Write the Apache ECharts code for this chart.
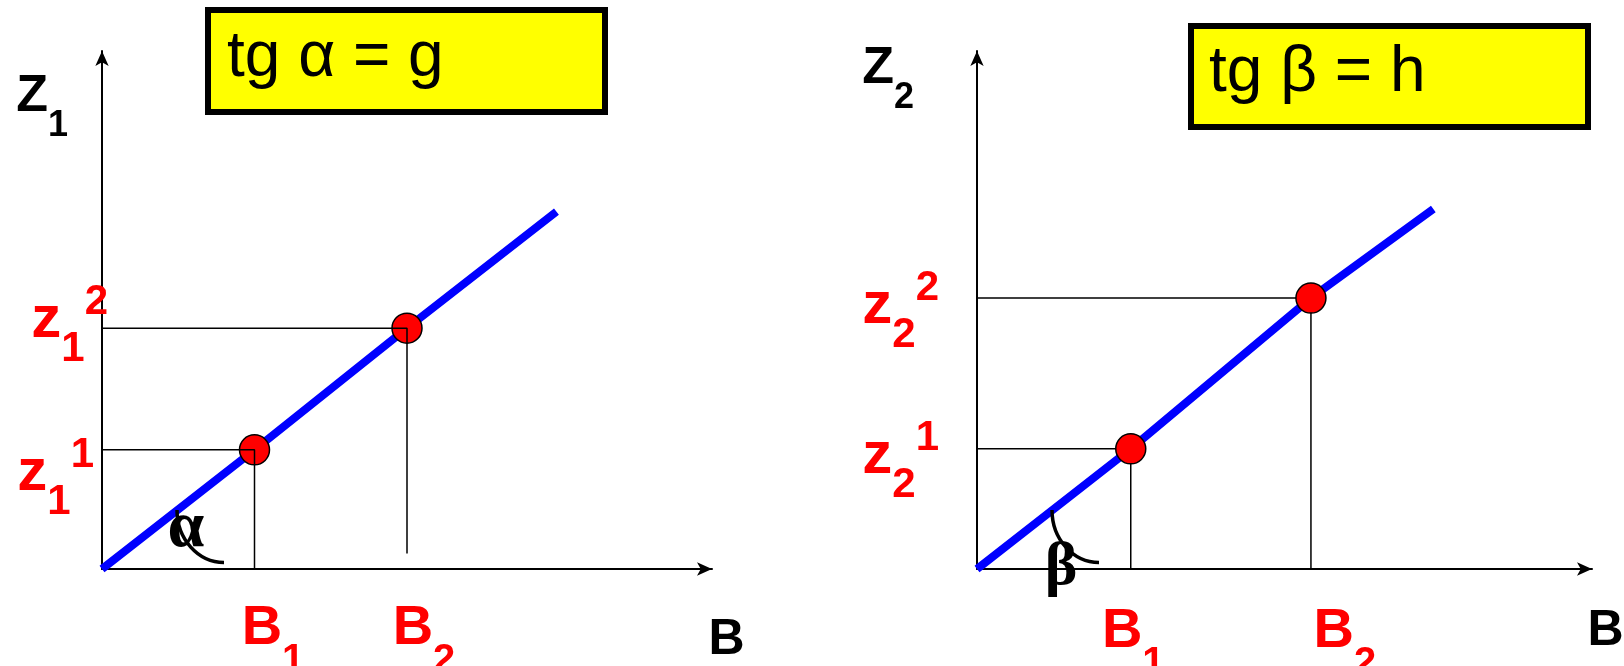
<!DOCTYPE html>
<html>
<head>
<meta charset="utf-8">
<title>tg α = g / tg β = h</title>
<script src="https://cdn.jsdelivr.net/npm/echarts@6/dist/echarts.min.js"></script>
<style>
  html, body { margin: 0; padding: 0; background: #fff; }
  #chart { width: 1624px; height: 666px; }
</style>
</head>
<body>
<div id="chart"></div>
<script>
// left panel: z1 against B
var bLeft = [2.5, 5.0];            // B1, B2
var zLeft = [2.3, 4.65];           // z1^1, z1^2
var lineLeftEnd = [7.45, 6.9];
var guideLeftB2Bottom = 0.3;       // the B2 drop line stops short of the axis

// right panel: z2 against B
var bRight = [2.5, 5.43];
var zRight = [2.32, 5.23];
var lineRightEnd = [7.42, 6.95];
var guideRightZ1Start = -0.23;     // the z2^1 line pokes out left of the axis

var subs = ['1', '2'];
var boxTexts = ['tg α = g', 'tg β = h'];
var angleNames = ['α', 'β'];
var axisNames = ['Z', 'B'];

var SANS = '"Liberation Sans", Arial, sans-serif';
var SERIF = '"Liberation Serif", "Times New Roman", serif';

function lineData(b, z, end) {
  return [[0, 0], [b[0], z[0]], [b[1], z[1]], end];
}

// rich styles for the red tick labels
function zRich(extra) {
  var r = {
    z:  { fontSize: 60, fontWeight: 'bold', fontFamily: SANS, color: '#f00', lineHeight: 100, verticalAlign: 'middle' },
    sb: { fontSize: 42, fontWeight: 'bold', fontFamily: SANS, color: '#f00', verticalAlign: 'bottom' },
    sp: { fontSize: 42, fontWeight: 'bold', fontFamily: SANS, color: '#f00', verticalAlign: 'top', padding: [11, 0, 0, 0] }
  };
  for (var k in extra) r[k] = extra[k];
  return r;
}
function bRich(extra) {
  var r = {
    B: { fontSize: 56, fontWeight: 'bold', fontFamily: SANS, color: '#f00', verticalAlign: 'top' },
    s: { fontSize: 40, fontWeight: 'bold', fontFamily: SANS, color: '#f00', verticalAlign: 'top', padding: [40, 0, 0, 0] }
  };
  for (var k in extra) r[k] = extra[k];
  return r;
}
var nameRich = {
  Z: { fontSize: 52, fontWeight: 'bold', fontFamily: SANS, color: '#000', verticalAlign: 'top' },
  s: { fontSize: 36, fontWeight: 'bold', fontFamily: SANS, color: '#000', verticalAlign: 'top', padding: [37, 0, 0, 0] }
};

// z label: optional spacer line above / below and trailing spacer
function zLabel(sub, sup, above, below, right) {
  var s = '';
  if (above) s += '{' + above + '| }\n';
  s += '{z|z}{sb|' + sub + '}{sp|' + sup + '}';
  if (right) s += '{' + right + '| }';
  if (below) s += '\n{' + below + '| }';
  return s;
}

var axisLineStyle = {
  show: true, onZero: false, symbol: ['none', 'arrow'], symbolSize: [10, 15],
  lineStyle: { color: '#000', width: 2 }
};

function xAxisFor(grid, bVals, margin, gaps, nameGap, namePad) {
  var extra = {};
  gaps.forEach(function (w, i) { extra['g' + i] = { width: w, fontSize: 10 }; });
  return {
    gridIndex: grid, type: 'value', min: 0, max: 10,
    axisLine: axisLineStyle, axisTick: { show: false }, splitLine: { show: false },
    axisLabel: {
      customValues: bVals, margin: margin, hideOverlap: false, color: '#f00',
      formatter: function (v) {
        var i = bVals.indexOf(v);
        return '{g' + i + '| }{B|B}{s|' + subs[i] + '}';
      },
      rich: bRich(extra)
    },
    name: axisNames[1], nameLocation: 'end', nameGap: nameGap, nameMoveOverlap: false,
    nameTextStyle: {
      align: 'left', verticalAlign: 'top', padding: [namePad, 0, 0, 0],
      fontSize: 50, fontWeight: 'bold', fontFamily: SANS, color: '#000', lineHeight: 50
    }
  };
}

function yAxisFor(grid, zVals, idx, margin, layouts, extra, nameGap, namePadRight) {
  return {
    gridIndex: grid, type: 'value', min: 0, max: 10,
    axisLine: axisLineStyle, axisTick: { show: false }, splitLine: { show: false },
    axisLabel: {
      customValues: zVals, margin: margin, hideOverlap: false, color: '#f00',
      formatter: function (v) {
        var i = zVals.indexOf(v);
        var l = layouts[i];
        return zLabel(idx, subs[i], l[0], l[1], l[2]);
      },
      rich: zRich(extra)
    },
    name: '{Z|' + axisNames[0] + '}{s|' + idx + '}', nameLocation: 'end', nameGap: nameGap, nameMoveOverlap: false,
    nameTextStyle: { align: 'right', verticalAlign: 'top', padding: [0, namePadRight, 0, 0], rich: nameRich }
  };
}

function guide(grid, pts, z) {
  return {
    type: 'line', xAxisIndex: grid, yAxisIndex: grid, data: pts, z: z, clip: false,
    symbol: 'none', silent: true, lineStyle: { color: '#000', width: 1.5 }
  };
}

function angleMark(grid, name, dy, size) {
  return {
    type: 'custom', xAxisIndex: grid, yAxisIndex: grid, data: [[0, 0]], z: 6, silent: true,
    renderItem: function (params, api) {
      var o = api.coord([api.value(0), api.value(1)]);
      return {
        type: 'group',
        children: [
          {
            type: 'bezierCurve',
            shape: { x1: o[0] + 75, y1: o[1] - 59, cpx1: o[0] + 75, cpy1: o[1] - 30,
                     cpx2: o[0] + 96, cpy2: o[1] - 6.5, x2: o[0] + 122, y2: o[1] - 6.5 },
            style: { stroke: '#000', lineWidth: 3.5, fill: null }
          },
          {
            type: 'text',
            style: { text: name, x: o[0] + 84, y: o[1] + dy, font: 'bold ' + size + 'px ' + SERIF,
                     fill: '#000', align: 'center', verticalAlign: 'middle' }
          }
        ]
      };
    }
  };
}

var chart = echarts.init(document.getElementById('chart'));
chart.setOption({
  animation: false,
  backgroundColor: '#fff',
  grid: [
    { left: 102, top: 51, width: 610, height: 518, outerBoundsMode: 'none' },
    { left: 977, top: 51, width: 615, height: 518, outerBoundsMode: 'none' }
  ],
  xAxis: [
    xAxisFor(0, bLeft, 32, [37, 34], -3.5, 46),
    xAxisFor(1, bRight, 35, [5, 68], -4.6, 37)
  ],
  yAxis: [
    yAxisFor(0, zLeft, '1', -6, [['va', null, 'hr'], [null, 'vb', null]],
      { va: { lineHeight: 48, fontSize: 10 }, vb: { lineHeight: 15, fontSize: 10 }, hr: { width: 14, fontSize: 10 } },
      -20, 34),
    yAxisFor(1, zRight, '2', 38, [['va', null, null], ['va', null, null]],
      { va: { lineHeight: 16, fontSize: 10 } },
      8, 63)
  ],
  graphic: [
    { type: 'rect', shape: { x: 208, y: 10, width: 397, height: 102 },
      style: { fill: '#ffff00', stroke: '#000', lineWidth: 6 }, z: 10 },
    { type: 'text', x: 227, y: 58, z: 11,
      style: { text: boxTexts[0], font: '64px ' + SANS, fill: '#000', verticalAlign: 'middle' } },
    { type: 'rect', shape: { x: 1191, y: 26, width: 397, height: 101 },
      style: { fill: '#ffff00', stroke: '#000', lineWidth: 6 }, z: 10 },
    { type: 'text', x: 1209, y: 73, z: 11,
      style: { text: boxTexts[1], font: '64px ' + SANS, fill: '#000', verticalAlign: 'middle' } }
  ],
  series: [
    // left panel
    { type: 'line', xAxisIndex: 0, yAxisIndex: 0, data: lineData(bLeft, zLeft, lineLeftEnd), z: 2,
      clip: false, symbol: 'none', silent: true, lineStyle: { color: '#0000ff', width: 8 } },
    { type: 'scatter', xAxisIndex: 0, yAxisIndex: 0, z: 3, symbolSize: 30, silent: true,
      data: [[bLeft[0], zLeft[0]], [bLeft[1], zLeft[1]]],
      itemStyle: { color: '#ff0000', borderColor: '#000', borderWidth: 1.5, opacity: 1 } },
    guide(0, [[0, zLeft[0]], [bLeft[0], zLeft[0]], [bLeft[0], 0]], 4),
    guide(0, [[0, zLeft[1]], [bLeft[1], zLeft[1]], [bLeft[1], guideLeftB2Bottom]], 4),
    angleMark(0, angleNames[0], -40, 66),
    // right panel
    { type: 'line', xAxisIndex: 1, yAxisIndex: 1, data: lineData(bRight, zRight, lineRightEnd), z: 2,
      clip: false, symbol: 'none', silent: true, lineStyle: { color: '#0000ff', width: 8 } },
    { type: 'scatter', xAxisIndex: 1, yAxisIndex: 1, z: 3, symbolSize: 30, silent: true,
      data: [[bRight[0], zRight[0]], [bRight[1], zRight[1]]],
      itemStyle: { color: '#ff0000', borderColor: '#000', borderWidth: 1.5, opacity: 1 } },
    guide(1, [[guideRightZ1Start, zRight[0]], [bRight[0], zRight[0]], [bRight[0], 0]], 1),
    guide(1, [[0, zRight[1]], [bRight[1], zRight[1]], [bRight[1], 0]], 1),
    angleMark(1, angleNames[1], -1, 62)
  ]
});
</script>
</body>
</html>
